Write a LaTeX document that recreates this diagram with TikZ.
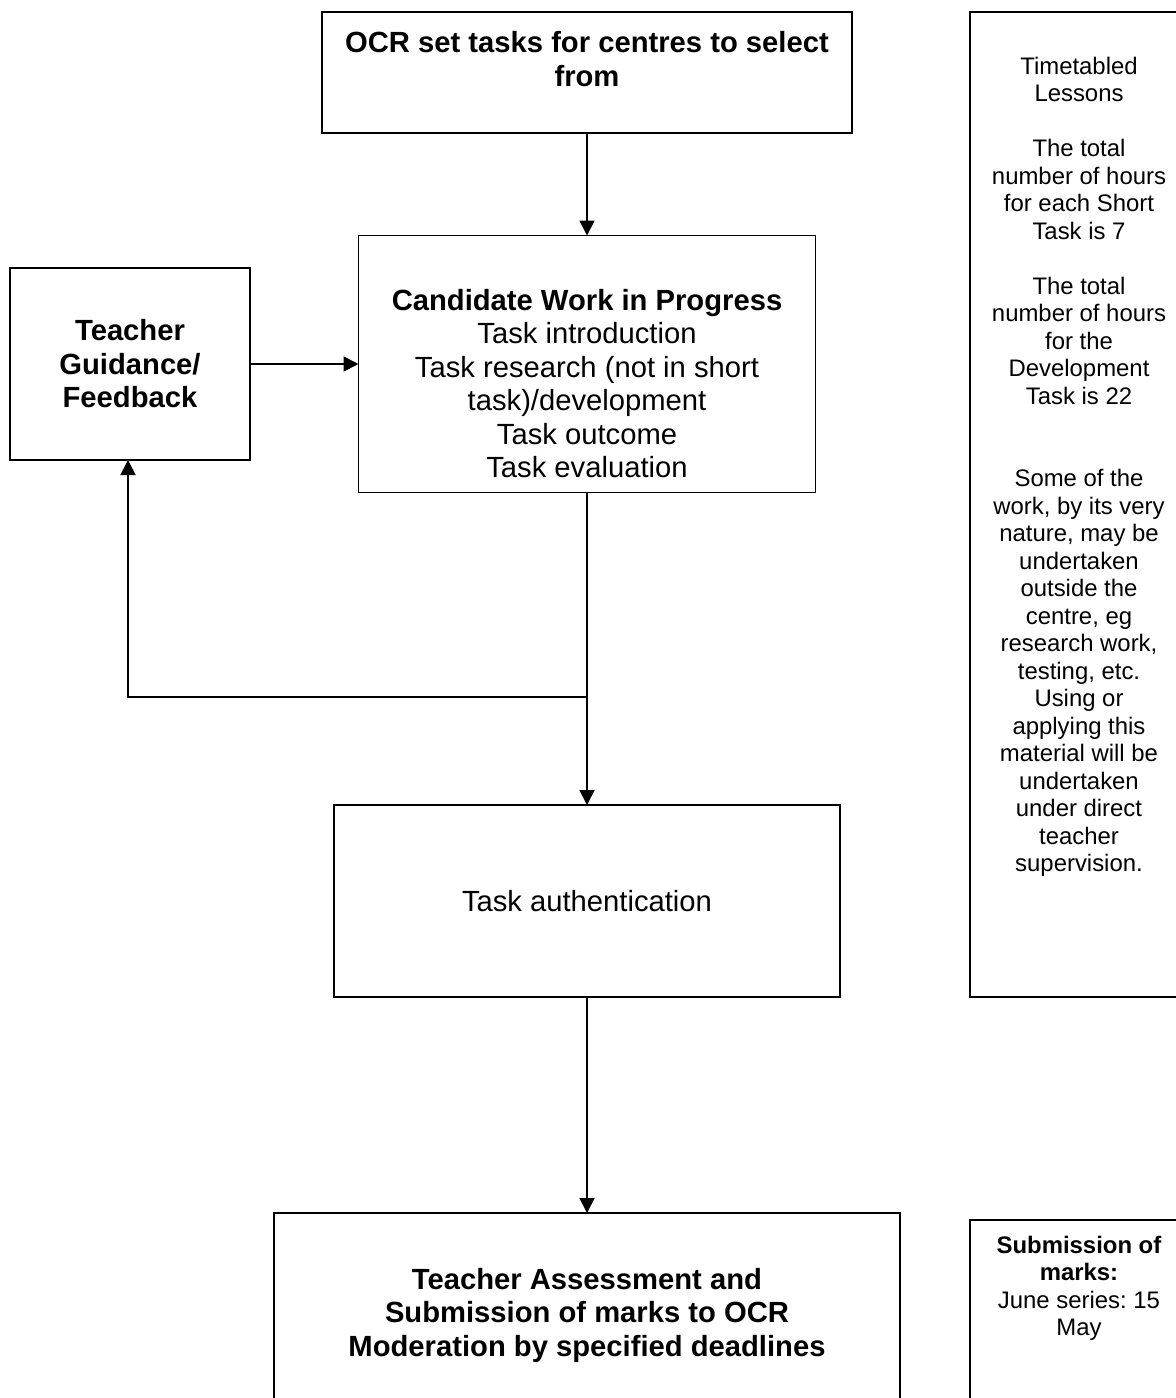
\documentclass[tikz,border=0pt]{standalone}
\usepackage{fontspec}
\setmainfont{Liberation Sans}
\usetikzlibrary{arrows.meta}
\frenchspacing
\begin{document}
\frenchspacing
\begin{tikzpicture}[x=0.5pt,y=-0.5pt,
  box/.style={draw,line width=0.85pt,inner sep=0pt,outer sep=0pt,align=center},
  mainfont/.style={font=\fontsize{14.6pt}{16.75pt}\selectfont},
  mainbold/.style={font=\fontsize{14.6pt}{16.75pt}\selectfont\bfseries},
  sidefont/.style={font=\fontsize{11.95pt}{13.75pt}\selectfont},
  txt/.style={inner sep=0pt,outer sep=0pt,align=center},
  arr/.style={line width=0.85pt,-{Triangle[length=7.5pt,width=7.5pt]}},
  ln/.style={line width=0.85pt}]
\useasboundingbox (0,0) rectangle (1176,1398);
\clip (0,0) rectangle (1176,1398);

% boxes
\node[box,minimum width=264.75pt,minimum height=60.5pt] (top) at (587,72.5) {};
\node[txt,mainbold] (toptext) at (587,59) {OCR set tasks for centres to select\\from};

\node[box,minimum width=228.5pt,minimum height=128.5pt] (cand) at (587,364) {};
\node[txt,mainfont] (candtext) at (587,383.5) {\textbf{Candidate Work in Progress}\\Task introduction\\Task research (not in short\\task)/development\\Task outcome\\Task evaluation};

\node[box,mainbold,minimum width=120pt,minimum height=96pt] (teach) at (130,364) {Teacher\\Guidance/\\Feedback};

\node[box,mainfont,minimum width=252.75pt,minimum height=96pt] (tauth) at (587,901) {Task authentication};

\node[box,minimum width=313pt,minimum height=108.5pt] (bottom) at (587,1321.5) {};
\node[txt,mainbold] (bottomtext) at (587,1315) {Teacher Assessment and\\Submission of marks to OCR\\Moderation by specified deadlines};

\node[box,minimum width=110pt,minimum height=492.5pt] (side) at (1080,504.5) {};
\node[txt,sidefont] (sidetext) at (1079,467) {Timetabled\\Lessons\\[13.75pt]The total\\number of hours\\for each Short\\Task is 7\\[13.75pt]The total\\number of hours\\for the\\Development\\Task is 22\\[27.5pt]Some of the\\work, by its very\\nature, may be\\undertaken\\outside the\\centre, eg\\research work,\\testing, etc.\\Using or\\applying this\\material will be\\undertaken\\under direct\\teacher\\supervision.};

\node[box,minimum width=110pt,minimum height=105pt] (sub) at (1080,1325) {};
\node[txt,sidefont] (subtext) at (1079,1288.5) {\textbf{Submission of}\\\textbf{marks:}\\June series: 15\\May};

% connectors
\coordinate (j) at (587,697);
\draw[arr] (top.south) -- (cand.north);
\draw[arr] (teach.east) -- (cand.west);
\draw[ln] (cand.south) -- (j);
\draw[arr] (j) -- (tauth.north);
\draw[arr] (j) -| ([xshift=-1pt]teach.south);
\draw[arr] (tauth.south) -- (bottom.north);
\end{tikzpicture}
\end{document}
